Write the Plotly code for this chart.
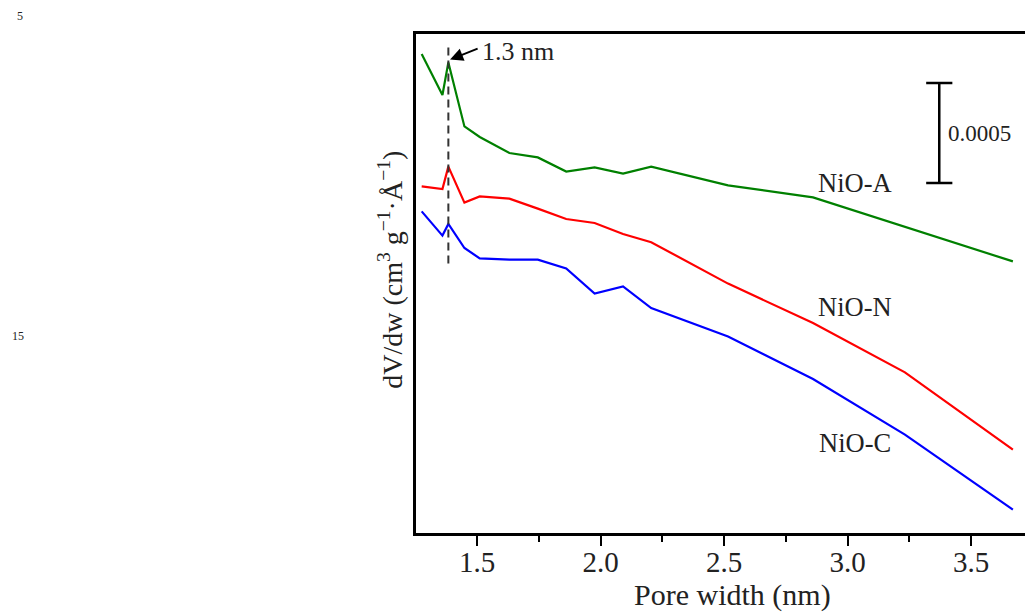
import plotly.graph_objects as go

# pore width (nm) and dV/dw (units of 1e-4 cm3 g-1 A-1, curves offset)
x_common = [1.276, 1.360, 1.384, 1.449, 1.511, 1.631, 1.746, 1.861, 1.976,
            2.091, 2.205, 2.516, 2.860, 3.232, 3.669]
x_green = [1.276, 1.360, 1.384, 1.449, 1.511, 1.631, 1.746, 1.861, 1.976,
           2.091, 2.205, 2.516, 2.860, 3.669]
y_green = [23.95, 21.90, 23.53, 20.33, 19.80, 19.00, 18.78, 18.07, 18.28,
           17.97, 18.32, 17.38, 16.78, 13.58]
y_red = [17.33, 17.20, 18.32, 16.52, 16.83, 16.72, 16.22, 15.70, 15.50,
         14.95, 14.54, 12.47, 10.50, 8.03, 4.17]
y_blue = [16.08, 14.87, 15.45, 14.25, 13.73, 13.67, 13.67, 13.23, 11.97,
          12.33, 11.25, 9.83, 7.70, 4.92, 1.17]

names = ['NiO-A', 'NiO-N', 'NiO-C']
label_x = [3.03, 3.03, 3.03]
label_y = [17.5, 11.3, 4.5]

peak_x = 1.384
peak_y = [24.27, 13.42]
bar_x = 3.371
bar_y = [17.5, 22.5]   # 0.0005 scale bar
bar_cap = 0.053

SERIF = 'Liberation Serif'
TXT = '#222222'
fig = go.Figure()

for xs, ys, col, nm in [(x_green, y_green, '#008000', names[0]),
                        (x_common, y_red, '#ff0000', names[1]),
                        (x_common, y_blue, '#0000ff', names[2])]:
    fig.add_trace(go.Scatter(x=xs, y=ys, mode='lines', name=nm,
                             line=dict(color=col, width=2.2)))

# dashed marker at 1.3 nm
fig.add_trace(go.Scatter(x=[peak_x, peak_x], y=peak_y, mode='lines',
                         line=dict(color='#333333', width=2, dash='8px,5px')))

# scale bar
fig.add_trace(go.Scatter(
    x=[bar_x, bar_x, None, bar_x - bar_cap, bar_x + bar_cap, None, bar_x - bar_cap, bar_x + bar_cap],
    y=[bar_y[0], bar_y[1], None, bar_y[0], bar_y[0], None, bar_y[1], bar_y[1]],
    mode='lines', line=dict(color='black', width=2.5)))

for nm, lx, ly in zip(names, label_x, label_y):
    fig.add_annotation(x=lx, y=ly, text=nm, showarrow=False, xanchor='center', yanchor='middle',
                       font=dict(family=SERIF, size=26.5, color=TXT))

fig.add_annotation(x=bar_x + 0.028, y=sum(bar_y) / 2, text='0.0005', showarrow=False,
                   xanchor='left', yanchor='middle', font=dict(family=SERIF, size=23, color=TXT))

# arrow + label for 1.3 nm
fig.add_annotation(x=1.391, y=23.67, ax=1.5085, ay=24.25, axref='x', ayref='y',
                   text='', showarrow=True, arrowhead=2, arrowsize=1.3,
                   arrowwidth=2, arrowcolor='black')
fig.add_annotation(x=1.513, y=24.1, text='1.3 nm', showarrow=False, xanchor='left',
                   yanchor='middle', font=dict(family=SERIF, size=26, color=TXT))

# axis titles
fig.add_annotation(xref='paper', yref='paper', x=0.52, y=-0.124, text='Pore width (nm)',
                   showarrow=False, xanchor='center', yanchor='middle',
                   font=dict(family=SERIF, size=30, color=TXT))
fig.add_annotation(xref='paper', yref='paper', x=-0.043, y=0.527, textangle=-90,
                   text='dV/dw (cm<sup>3</sup> g<sup>\u22121</sup>\u00b7\u00c5<sup>\u22121</sup>)',
                   showarrow=False, xanchor='center', yanchor='middle',
                   font=dict(family=SERIF, size=28, color=TXT))

# page line numbers
fig.add_annotation(xref='paper', yref='paper', x=-0.650, y=1.036, text='5', showarrow=False,
                   xanchor='center', yanchor='middle', font=dict(family=SERIF, size=12, color=TXT))
fig.add_annotation(xref='paper', yref='paper', x=-0.6535, y=0.395, text='15', showarrow=False,
                   xanchor='center', yanchor='middle', font=dict(family=SERIF, size=12, color=TXT))

fig.update_xaxes(range=[1.253, 3.718], showgrid=False, zeroline=False,
                 showline=True, linecolor='black', linewidth=2.5, mirror=True,
                 tickvals=[1.5, 2.0, 2.5, 3.0, 3.5], ticktext=['1.5', '2.0', '2.5', '3.0', '3.5'],
                 ticks='outside', ticklen=10, tickwidth=2, tickcolor='black',
                 ticklabelstandoff=-9,
                 tickfont=dict(family=SERIF, size=29, color=TXT),
                 minor=dict(tickvals=[1.25, 1.75, 2.25, 2.75, 3.25], ticks='outside',
                            ticklen=6, tickwidth=2, tickcolor='black'))
fig.update_yaxes(range=[0, 24.95], showgrid=False, zeroline=False, showticklabels=False,
                 showline=True, linecolor='black', linewidth=3, ticks='')

fig.update_layout(width=1025, height=612, showlegend=False,
                  margin=dict(l=416, r=0, t=34, b=79),
                  plot_bgcolor='white', paper_bgcolor='white')

# drop the default page margin so the figure sits at the window's corner
fig.write_html('out.html', config={'displayModeBar': False},
               post_script="document.body.style.margin='0';"
                           "document.body.style.overflow='hidden';")
